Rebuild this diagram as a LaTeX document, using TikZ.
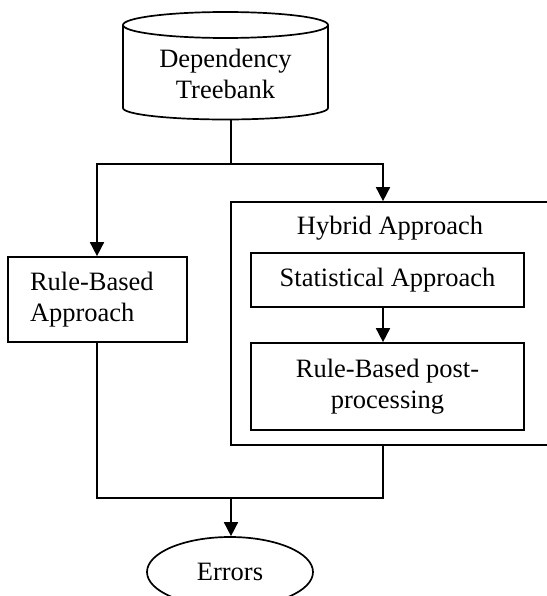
\documentclass[tikz,border=0pt]{standalone}
\usepackage{fontspec}
\setmainfont{Liberation Serif}
\usetikzlibrary{shapes.geometric,arrows.meta}
\begin{document}
\begin{tikzpicture}[x=1pt,y=-1pt,
  line width=1.7pt,
  font=\fontsize{26.5}{30.5}\selectfont,
  box/.style={draw,rectangle,inner sep=0pt},
  arr/.style={-{Triangle[width=14pt,length=14pt]}}]
\useasboundingbox (0,0) rectangle (546,596);
% cylinder
\draw (123,25) -- (123,108) arc[start angle=180,end angle=0,x radius=102.5,y radius=11.5] -- (328,25);
\draw (225.5,25) ellipse[x radius=102.5,y radius=13];
\node[align=center,inner sep=0pt] (db) at (225.5,74) {Dependency\\Treebank};
\coordinate (dbb) at (231,119.5);
\coordinate (jn) at (231,164);
\coordinate (axl) at (97,164);
\coordinate (axr) at (383,164);
% boxes
\node[box,minimum width=179pt,minimum height=85pt,align=left,text width=135pt] (rb) at (97.5,299.5) {Rule-Based\\Approach};
\node[box,minimum width=324pt,minimum height=243pt] (hy) at (393,323.5) {};
\node[inner sep=0pt] (hyl) at (390,228) {Hybrid Approach};
\node[box,minimum width=273pt,minimum height=54pt] (st) at (387.5,280) {Statistical Approach};
\node[box,minimum width=273pt,minimum height=87pt,align=center] (pp) at (387.5,386.5) {Rule-Based post-\\processing};
\node[draw,ellipse,minimum width=166pt,minimum height=70pt,inner sep=0pt] (er) at (230,572) {Errors};
\coordinate (jb) at (231,498);
% connectors
\draw (dbb) -- (jn);
\draw[arr] (jn) -- (axl) -- (rb.north -| axl);
\draw[arr] (jn) -- (axr) -- (hy.north -| axr);
\draw[arr] (st.south -| axr) -- (pp.north -| axr);
\draw (rb.south -| axl) -- (jb -| axl) -- (jb -| axr) -- (hy.south -| axr);
\draw[arr] (jb) -- (er.north -| jb);
\end{tikzpicture}
\end{document}
